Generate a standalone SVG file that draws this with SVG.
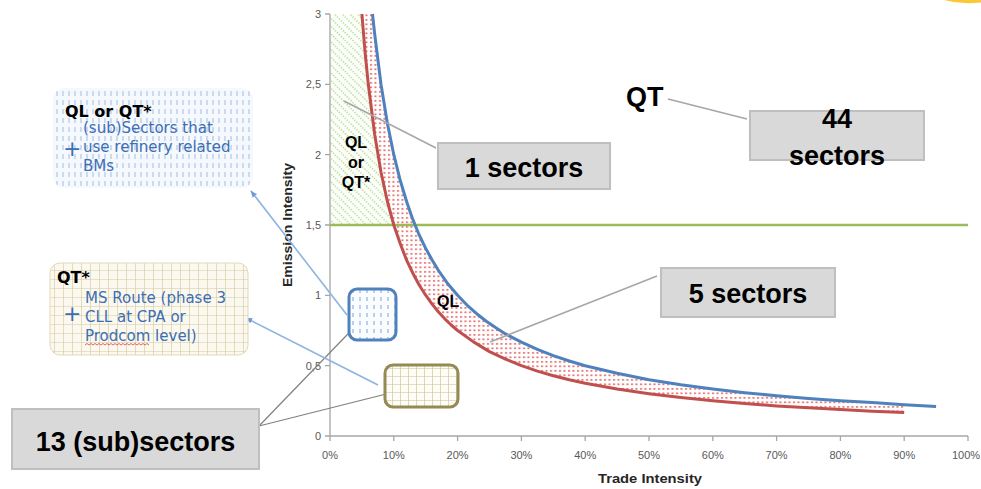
<svg xmlns="http://www.w3.org/2000/svg" width="981" height="489" viewBox="0 0 981 489">
<style>
.tick{font-family:"Liberation Sans",Arial,sans-serif;font-size:11px;fill:#595959}
.axt{font-family:"Liberation Sans",Arial,sans-serif;font-size:13px;font-weight:bold;fill:#262626}
.big{font-family:"Liberation Sans",Arial,sans-serif;font-size:27px;font-weight:bold;fill:#000}
.lbl{font-family:"Liberation Sans",Arial,sans-serif;font-size:16px;font-weight:bold;fill:#000}
.hd{font-family:"DejaVu Sans",Verdana,sans-serif;font-size:16px;font-weight:bold;fill:#000}
.bt{font-family:"DejaVu Sans",Verdana,sans-serif;font-size:15px;fill:#3c6eb4}
.plus{font-family:"DejaVu Sans",Verdana,sans-serif;font-size:22px;fill:#3c6eb4}
.gbox{fill:#d9d9d9;stroke:#bfbfbf;stroke-width:2}
.lead{stroke:#a6a6a6;stroke-width:1.5;fill:none}
.lead2{stroke:#808080;stroke-width:1.2;fill:none}
.arr{stroke:#8db3e2;stroke-width:1.6;fill:none;marker-end:url(#ah)}
.axis{stroke:#a6a6a6;stroke-width:1.3;fill:none}
</style>
<defs>
<marker id="ah" viewBox="0 0 10 10" refX="9" refY="5" markerWidth="7" markerHeight="7" orient="auto" markerUnits="userSpaceOnUse">
<path d="M0,1 L10,5 L0,9 Z" fill="#6f9bd6"/>
</marker>
<pattern id="pGreen" width="5.5" height="5.5" patternUnits="userSpaceOnUse" patternTransform="rotate(-45)">
<rect width="5.5" height="5.5" fill="#fcfefa"/>
<line x1="1" y1="0" x2="1" y2="5.5" stroke="#9fcc72" stroke-width="1.3" stroke-dasharray="1.2 1.55"/>
</pattern>
<pattern id="pRed" width="4.5" height="4.5" patternUnits="userSpaceOnUse">
<rect width="4.5" height="4.5" fill="#fff"/>
<rect x="1" y="1" width="2" height="1.7" fill="#e46b69"/>
</pattern>
<pattern id="pBlue" width="6" height="9" patternUnits="userSpaceOnUse">
<rect width="6" height="9" fill="#f5f8fc"/>
<line x1="3" y1="1" x2="3" y2="6" stroke="#9fbde3" stroke-width="1"/>
</pattern>
<pattern id="pBlue2" width="7" height="8" patternUnits="userSpaceOnUse">
<rect width="7" height="8" fill="#fbfcfe"/>
<line x1="3" y1="1" x2="3" y2="5" stroke="#7aa5db" stroke-width="1"/>
</pattern>
<pattern id="pGrid" width="9" height="9" patternUnits="userSpaceOnUse">
<rect width="9" height="9" fill="#fbf9ef"/>
<path d="M0,0 H9 M0,0 V9" stroke="#d4c89c" stroke-width="1.2"/>
</pattern>
<pattern id="pGrid2" width="8" height="8" patternUnits="userSpaceOnUse">
<rect width="8" height="8" fill="#fdfcf6"/>
<path d="M0,0 H8 M0,0 V8" stroke="#cbbf92" stroke-width="1.2"/>
</pattern>
</defs>

<rect width="981" height="489" fill="#fff"/>
<path d="M944,0 Q962,5 981,2.5 L981,0 Z" fill="#fbc735"/>

<g id="chart">
<path id="greenZone" d="M330,14 L361.9,14 L365.1,52.4 L368.3,84.3 L374.7,134.5 L381,172.2 L387.4,201.5 L393.8,225 L330,225 Z" fill="url(#pGreen)"/>
<path id="redZone" d="M361.9,14 L365.1,52.4 L368.3,84.3 L374.7,134.5 L381,172.2 L387.4,201.5 L393.8,225 L400.2,243.5 L406.6,260.2 L413,273.5 L419.3,285.3 L425.7,295.2 L432.1,304.1 L438.5,312 L444.8,318.8 L451.2,325 L457.6,330.5 L473.5,341.9 L489.5,351.6 L505.5,359.1 L521.4,365.7 L537.4,371.1 L553.3,375.7 L569.3,379.7 L585.2,383.2 L617.1,389 L649,393.8 L680.9,397.6 L712.8,400.8 L744.7,403.5 L776.6,405.9 L808.5,407.8 L840.4,409.6 L872.3,411.2 L904.2,412.6 L904.2,404.7 L872.3,402.5 L840.4,400.8 L808.5,398.5 L776.6,395.8 L744.7,392.7 L712.8,389.1 L680.9,384.8 L649,379.7 L617.1,373.3 L585.2,365.7 L569.3,361 L553.3,355.6 L537.4,349.4 L521.4,342.2 L505.5,333.9 L495.9,327.8 L486.3,321.2 L476.7,313.7 L467.2,305.3 L457.6,295.3 L448,284.1 L438.5,270.5 L432.1,260 L425.7,248.4 L419.3,235.2 L415.1,225 L412.2,217.8 L406.6,201.5 L400.2,180.3 L393.8,154.7 L387.4,123.4 L381,84.3 L374.7,34.1 L372.5,14 Z" fill="url(#pRed)"/>
<line id="gridAxisY" class="axis" x1="330" y1="14" x2="330" y2="436"/>
<line id="gridAxisX" class="axis" x1="330" y1="436" x2="968" y2="436"/>
<path class="axis" d="M325,14H330M325,84.3H330M325,154.7H330M325,225H330M325,295.3H330M325,365.7H330M325,436H330"/>
<path class="axis" d="M330,436V441M393.8,436V441M457.6,436V441M521.4,436V441M585.2,436V441M649,436V441M712.8,436V441M776.6,436V441M840.4,436V441M904.2,436V441M968,436V441"/>
<g class="tick" text-anchor="end">
<text x="321" y="18">3</text>
<text x="321" y="88">2,5</text>
<text x="321" y="159">2</text>
<text x="321" y="229">1,5</text>
<text x="321" y="299">1</text>
<text x="321" y="370">0,5</text>
<text x="321" y="440">0</text>
</g>
<g class="tick" text-anchor="middle">
<text x="330" y="459">0%</text>
<text x="393.8" y="459">10%</text>
<text x="457.6" y="459">20%</text>
<text x="521.4" y="459">30%</text>
<text x="585.2" y="459">40%</text>
<text x="649" y="459">50%</text>
<text x="712.8" y="459">60%</text>
<text x="776.6" y="459">70%</text>
<text x="840.4" y="459">80%</text>
<text x="904.2" y="459">90%</text>
<text x="966" y="459">100%</text>
</g>
<text class="axt" x="650" y="483" text-anchor="middle" textLength="104" lengthAdjust="spacingAndGlyphs">Trade Intensity</text>
<text class="axt" transform="translate(292,225) rotate(-90)" text-anchor="middle" textLength="124" lengthAdjust="spacingAndGlyphs">Emission Intensity</text>
<line id="threshold" x1="330" y1="225" x2="968" y2="225" stroke="#9bbb59" stroke-width="2.5"/>
<path id="redCurve" d="M361.9,14 L365.1,52.4 L368.3,84.3 L374.7,134.5 L381,172.2 L387.4,201.5 L393.8,225 L400.2,243.5 L406.6,260.2 L413,273.5 L419.3,285.3 L425.7,295.2 L432.1,304.1 L438.5,312 L444.8,318.8 L451.2,325 L457.6,330.5 L473.5,341.9 L489.5,351.6 L505.5,359.1 L521.4,365.7 L537.4,371.1 L553.3,375.7 L569.3,379.7 L585.2,383.2 L617.1,389 L649,393.8 L680.9,397.6 L712.8,400.8 L744.7,403.5 L776.6,405.9 L808.5,407.8 L840.4,409.6 L872.3,411.2 L904.2,412.6" fill="none" stroke="#c0504d" stroke-width="3" stroke-linejoin="round"/>
<path id="blueCurve" d="M372.5,14 L374.7,34.1 L381,84.3 L387.4,123.4 L393.8,154.7 L400.2,180.3 L406.6,201.5 L412.2,217.8 L415.1,225 L419.3,235.2 L425.7,248.4 L432.1,260 L438.5,270.5 L448,284.1 L457.6,295.3 L467.2,305.3 L476.7,313.7 L486.3,321.2 L495.9,327.8 L505.5,333.9 L521.4,342.2 L537.4,349.4 L553.3,355.6 L569.3,361 L585.2,365.7 L617.1,373.3 L649,379.7 L680.9,384.8 L712.8,389.1 L744.7,392.7 L776.6,395.8 L808.5,398.5 L840.4,400.8 L872.3,402.5 L904.2,404.7 L936.1,406.4" fill="none" stroke="#4f81bd" stroke-width="3" stroke-linejoin="round"/>
<g class="lbl" text-anchor="middle">
<text x="356" y="148">QL</text>
<text x="356" y="168">or</text>
<text x="356" y="188">QT*</text>
</g>
<text class="lbl" x="437" y="307" font-size="17">QL</text>
<text class="big" x="626" y="106">QT</text>
</g>

<g id="connectors">
<line class="lead" x1="344" y1="101" x2="436" y2="148"/>
<line class="lead" x1="668" y1="99" x2="747" y2="119"/>
<line class="lead" x1="657" y1="276" x2="490" y2="342"/>
<line class="lead2" x1="259" y1="426" x2="373" y2="308"/>
<line class="lead2" x1="259" y1="426" x2="418" y2="386"/>
<line class="arr" x1="347" y1="315" x2="251" y2="191"/>
<line class="arr" x1="378" y1="385" x2="246" y2="318"/>
</g>

<g id="boxBlueSmall">
<rect x="349" y="289" width="47" height="51" rx="8" fill="url(#pBlue2)" stroke="#4f81bd" stroke-width="3"/>
</g>
<g id="boxOliveSmall">
<rect x="385" y="365" width="73" height="42" rx="8" fill="url(#pGrid2)" stroke="#948a54" stroke-width="3"/>
</g>

<g id="box1sectors">
<rect class="gbox" x="438" y="143" width="172" height="46"/>
<text class="big" x="524" y="177" text-anchor="middle">1 sectors</text>
</g>
<g id="box44sectors">
<rect class="gbox" x="750" y="111" width="174" height="49"/>
<text class="big" x="837" y="128" text-anchor="middle">44</text>
<text class="big" x="837" y="165" text-anchor="middle">sectors</text>
</g>
<g id="box5sectors">
<rect class="gbox" x="661" y="268" width="174" height="49"/>
<text class="big" x="748" y="303" text-anchor="middle">5 sectors</text>
</g>
<g id="box13subsectors">
<rect class="gbox" x="12" y="409" width="247" height="60"/>
<text class="big" x="135.5" y="451" text-anchor="middle">13 (sub)sectors</text>
</g>

<g id="boxQLorQT">
<rect x="53" y="88" width="200" height="100" rx="12" fill="url(#pBlue)"/>
<text class="hd" x="65" y="117">QL or QT*</text>
<text class="plus" x="63" y="156">+</text>
<text class="bt" x="83" y="133">(sub)Sectors that</text>
<text class="bt" x="83" y="152">use refinery related</text>
<text class="bt" x="83" y="171">BMs</text>
</g>
<g id="boxQTstar">
<rect x="50" y="263" width="198" height="92" rx="10" fill="url(#pGrid)" stroke="#e2d9b6" stroke-width="1"/>
<text class="hd" x="57" y="283">QT*</text>
<text class="plus" x="63" y="321">+</text>
<text class="bt" x="85" y="303">MS Route (phase 3</text>
<text class="bt" x="85" y="322">CLL at CPA or</text>
<text class="bt" x="85" y="341">Prodcom level)</text>
<path d="M85,345 l2,-1.5 l2,1.5 l2,-1.5 l2,1.5 l2,-1.5 l2,1.5 l2,-1.5 l2,1.5 l2,-1.5 l2,1.5 l2,-1.5 l2,1.5 l2,-1.5 l2,1.5 l2,-1.5 l2,1.5 l2,-1.5 l2,1.5 l2,-1.5 l2,1.5 l2,-1.5 l2,1.5 l2,-1.5 l2,1.5 l2,-1.5 l2,1.5 l2,-1.5 l2,1.5 l2,-1.5 l2,1.5 l2,-1.5 l2,1.5" fill="none" stroke="#e04040" stroke-width="0.8"/>
</g>
</svg>
